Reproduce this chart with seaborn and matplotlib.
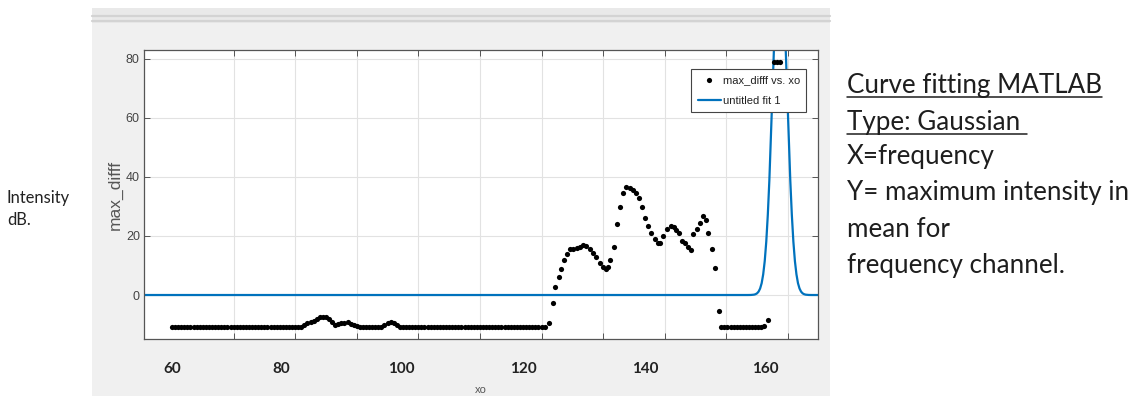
import matplotlib
matplotlib.use("Agg")
import matplotlib.pyplot as plt
from matplotlib import font_manager
from matplotlib.patches import Rectangle
from matplotlib.lines import Line2D
from matplotlib.ticker import FixedLocator
import seaborn as sns
import pandas as pd

# ---------------- data ----------------
# flat baseline 60 .. 81
xo_a = [60.0, 60.5, 61.0, 61.5, 62.0, 62.5, 63.0, 63.5, 64.0, 64.5,
        65.0, 65.5, 66.0, 66.5, 67.0, 67.5, 68.0, 68.5, 69.0, 69.5,
        70.0, 70.5, 71.0, 71.5, 72.0, 72.5, 73.0, 73.5, 74.0, 74.5,
        75.0, 75.5, 76.0, 76.5, 77.0, 77.5, 78.0, 78.5, 79.0, 79.5,
        80.0, 80.5, 81.0]
diff_a = [-10.7, -10.7, -10.7, -10.7, -10.7, -10.7, -10.7, -10.7, -10.7, -10.7,
          -10.7, -10.7, -10.7, -10.7, -10.7, -10.7, -10.7, -10.7, -10.7, -10.7,
          -10.7, -10.7, -10.7, -10.7, -10.7, -10.7, -10.7, -10.7, -10.7, -10.7,
          -10.7, -10.7, -10.7, -10.7, -10.7, -10.7, -10.7, -10.7, -10.7, -10.7,
          -10.7, -10.7, -10.7]
# first small bump
xo_b = [81.5, 82.0, 82.5, 83.0, 83.5, 84.0, 84.5, 85.0, 85.5, 86.0,
        86.5, 87.0, 87.5, 88.0, 88.5, 89.0, 89.5, 90.0]
diff_b = [-10.3, -9.6, -9.2, -8.7, -8.1, -7.6, -7.3, -7.5, -8.0, -9.2,
          -10.0, -9.7, -9.5, -9.4, -9.3, -9.8, -10.2, -10.5]
# flat
xo_c = [90.5, 91.0, 91.5, 92.0, 92.5, 93.0, 93.5, 94.0]
diff_c = [-10.7, -10.7, -10.7, -10.7, -10.7, -10.7, -10.7, -10.7]
# second small bump
xo_d = [94.5, 95.0, 95.5, 96.0, 96.5]
diff_d = [-10.2, -9.6, -9.1, -9.5, -10.3]
# flat 97 .. 120.5
xo_e = [97.0, 97.5, 98.0, 98.5, 99.0, 99.5, 100.0, 100.5, 101.0, 101.5,
        102.0, 102.5, 103.0, 103.5, 104.0, 104.5, 105.0, 105.5, 106.0, 106.5,
        107.0, 107.5, 108.0, 108.5, 109.0, 109.5, 110.0, 110.5, 111.0, 111.5,
        112.0, 112.5, 113.0, 113.5, 114.0, 114.5, 115.0, 115.5, 116.0, 116.5,
        117.0, 117.5, 118.0, 118.5, 119.0, 119.5, 120.0, 120.5]
diff_e = [-10.7, -10.7, -10.7, -10.7, -10.7, -10.7, -10.7, -10.7, -10.7, -10.7,
          -10.7, -10.7, -10.7, -10.7, -10.7, -10.7, -10.7, -10.7, -10.7, -10.7,
          -10.7, -10.7, -10.7, -10.7, -10.7, -10.7, -10.7, -10.7, -10.7, -10.7,
          -10.7, -10.7, -10.7, -10.7, -10.7, -10.7, -10.7, -10.7, -10.7, -10.7,
          -10.7, -10.7, -10.7, -10.7, -10.7, -10.7, -10.7, -10.7]
# rise and humps 121 .. 149
xo_f = [121.2, 121.8, 122.2, 122.8, 123.2, 123.7, 124.2, 124.7, 125.1, 125.7,
        126.2, 126.8, 127.3, 127.9, 128.4, 128.9, 129.5, 130.0, 130.5, 130.8,
        131.2, 131.8, 132.3, 132.7, 133.3, 133.8, 134.4, 134.9, 135.4, 135.9,
        136.3, 136.8, 137.3, 137.8, 138.4, 138.9, 139.2, 139.8, 140.3, 141.0,
        141.5, 141.9, 142.4, 142.8, 143.3, 143.8, 144.3, 144.6, 145.2, 145.7,
        146.3, 146.7, 147.1, 147.7, 148.2, 148.8]
diff_f = [-9.5, -2.8, 2.6, 6.2, 8.9, 11.9, 13.9, 15.5, 15.7, 15.9,
          16.4, 17.1, 16.6, 15.5, 14.1, 12.8, 11.0, 9.6, 8.9, 9.4,
          11.9, 16.4, 24.1, 29.9, 34.5, 36.5, 36.3, 35.6, 34.5, 32.8,
          29.9, 26.2, 23.4, 20.9, 18.9, 17.5, 17.7, 20.0, 22.5, 23.4,
          22.9, 22.0, 20.9, 18.4, 17.7, 16.4, 15.3, 20.7, 22.3, 24.5,
          26.8, 25.4, 20.9, 15.7, 9.0, -5.5]
# flat right part
xo_g = [149.2, 149.7, 150.2, 150.7, 151.2, 151.7, 152.2, 152.7, 153.2, 153.7,
        154.2, 154.7, 155.2, 155.7, 156.2, 156.7]
diff_g = [-10.7, -10.7, -10.7, -10.7, -10.7, -10.7, -10.7, -10.7, -10.7, -10.7,
          -10.7, -10.7, -10.7, -10.7, -10.5, -8.6]
# points near the top
xo_h = [157.8, 158.3, 158.8]
diff_h = [78.8, 78.8, 78.8]

# gaussian fit curve ("untitled fit 1")
fit_x = [55.0, 153.5, 154.0, 154.5, 154.75, 155.0, 155.25, 155.5, 155.75, 156.0,
         156.25, 156.5, 156.75, 157.0, 157.5, 158.0, 158.7, 159.4, 159.9, 160.4,
         160.65, 160.9, 161.15, 161.4, 161.65, 161.9, 162.15, 162.4, 162.65, 162.9,
         163.4, 163.9, 166.0]
fit_y = [0.0, 0.0, 0.02, 0.12, 0.27, 0.57, 1.15, 2.2, 4.0, 7.0,
         11.5, 18.1, 27.2, 38.8, 68.4, 99.0, 120.0, 99.0, 68.4, 38.8,
         27.2, 18.1, 11.5, 7.0, 4.0, 2.2, 1.15, 0.57, 0.27, 0.12,
         0.02, 0.0, 0.0]

grid_x = [60, 70, 80, 90, 100, 110, 120, 130, 140, 150, 160]
y_ticks = [0, 20, 40, 60, 80]
# bold labels pasted on the slide (their positions on the MATLAB axis)
overlay_labels = ["60", "80", "100", "120", "140", "160"]
overlay_pos = [60.0, 77.7, 97.3, 117.0, 136.8, 156.4]

slide_lines = ["Curve fitting MATLAB", "Type: Gaussian ", "X=frequency",
               "Y= maximum intensity in", "mean for", "frequency channel."]
side_lines = ["Intensity", "dB."]

# ---------------- build frames ----------------
xo = xo_a + xo_b + xo_c + xo_d + xo_e + xo_f + xo_g + xo_h
max_difff = diff_a + diff_b + diff_c + diff_d + diff_e + diff_f + diff_g + diff_h
assert len(xo) == len(max_difff)
assert len(fit_x) == len(fit_y)
df = pd.DataFrame({"xo": xo, "max_difff": max_difff})
fit_df = pd.DataFrame({"xo": fit_x, "fit": fit_y})

# ---------------- style ----------------
sns.set_theme(style="white")
names = {f.name for f in font_manager.fontManager.ttflist}


def pick(*cands):
    for c in cands:
        if c in names:
            return c
    return "DejaVu Sans"


narrow = pick("Liberation Sans Narrow", "DejaVu Sans Condensed", "Liberation Sans")
slide = pick("Lato", "Open Sans", "DejaVu Sans")
plt.rcParams["font.family"] = [narrow, "DejaVu Sans"]

W, H = 1140, 396
fig = plt.figure(figsize=(W / 100, H / 100), dpi=100)
fig.patch.set_facecolor("white")

# MATLAB window background
fig.add_artist(Rectangle((92 / W, 0), (830 - 92) / W, 1 - 8 / H,
                         transform=fig.transFigure, facecolor="#f0f0f0",
                         edgecolor="none", zorder=0))
fig.add_artist(Rectangle((92 / W, 1 - 23 / H), (830 - 92) / W, 15 / H,
                         transform=fig.transFigure, facecolor="#e9e9e9",
                         edgecolor="none", zorder=0))
for yy in (16, 21):
    fig.add_artist(Line2D([92 / W, 830 / W], [1 - yy / H] * 2,
                          transform=fig.transFigure, color="#d3d3d3",
                          lw=1.6, zorder=0.5))

ax = fig.add_axes([144 / W, 1 - 339 / H, (818 - 144) / W, (339 - 50) / H])
ax.set_facecolor("white")

sns.lineplot(data=fit_df, x="xo", y="fit", sort=False, estimator=None,
             color="#0072BD", lw=1.6, ax=ax, label="untitled fit 1", zorder=2)
sns.scatterplot(data=df, x="xo", y="max_difff", color="black", s=14,
                linewidth=0, ax=ax, label="max_difff vs. xo", zorder=3)

ax.set_xlim(55.45, 164.9)
ax.set_ylim(-14.9, 83.0)

ax.xaxis.set_minor_locator(FixedLocator(grid_x))
ax.set_xticks(overlay_pos, overlay_labels)
ax.set_yticks(y_ticks, [str(v) for v in y_ticks])
ax.tick_params(axis="x", which="major", length=0, pad=16.5, labelsize=11,
               labelcolor="#222222")
ax.tick_params(axis="x", which="minor", direction="in", length=4,
               top=True, bottom=True, color="#555555", width=0.7)
ax.tick_params(axis="y", which="major", direction="in", length=4,
               left=True, right=True, color="#555555", width=0.7,
               labelsize=9, labelcolor="#444444", pad=3)
for lab in ax.get_xticklabels():
    lab.set_fontweight("bold")
    lab.set_family([slide, "DejaVu Sans"])
ax.grid(False, which="major", axis="x")
ax.grid(True, which="minor", axis="x", color="#e2e2e2", lw=0.8)
ax.grid(True, which="major", axis="y", color="#e2e2e2", lw=0.8)
ax.set_axisbelow(True)
for sp in ax.spines.values():
    sp.set_color("#555555")
    sp.set_linewidth(0.9)

ax.set_ylabel("max_difff", fontsize=12.5, color="#555555")
ax.yaxis.set_label_coords(-0.031, 0.5)
ax.set_xlabel("xo", fontsize=8, color="#555555")
ax.xaxis.set_label_coords(0.5, -0.158)

h, l = ax.get_legend_handles_labels()
order = [l.index("max_difff vs. xo"), l.index("untitled fit 1")]
leg = ax.legend([h[i] for i in order], [l[i] for i in order],
                loc="upper right", bbox_to_anchor=(0.982, 0.934),
                borderaxespad=0, frameon=True, fancybox=False, framealpha=1,
                edgecolor="#444444", fontsize=8, handlelength=2.1,
                handletextpad=0.15, labelspacing=1.0, borderpad=0.55,
                markerscale=1.0)
leg.get_frame().set_linewidth(0.8)
leg.set_zorder(5)
for t in leg.get_texts():
    t.set_color("#222222")

# ---------------- slide text ----------------
renderer = fig.canvas.get_renderer()


def fit_size(txt, target_w, base=18.0):
    t = fig.text(0, 0, txt, fontsize=base, family=[slide, "DejaVu Sans"])
    w = t.get_window_extent(renderer).width
    t.remove()
    return base * target_w / w


big = fit_size(slide_lines[0], 254)
right_baselines = [93, 130, 164, 200, 237, 273]
texts = []
for txt, yb in zip(slide_lines, right_baselines):
    t = fig.text(847 / W, 1 - yb / H, txt, fontsize=big, va="baseline",
                 ha="left", color="#1e1e1e", family=[slide, "DejaVu Sans"])
    texts.append(t)

small = fit_size(side_lines[0], 63, base=12)
for txt, yb in zip(side_lines, [203, 225]):
    fig.text(7 / W, 1 - yb / H, txt, fontsize=small, va="baseline", ha="left",
             color="#222222", family=[slide, "DejaVu Sans"])

fig.canvas.draw()
for t, yb in zip(texts[:2], right_baselines[:2]):
    bb = t.get_window_extent(renderer)
    yline = 1 - (yb + 3.5) / H
    fig.add_artist(Line2D([bb.x0 / W, bb.x1 / W], [yline, yline],
                          transform=fig.transFigure, color="#1e1e1e", lw=1.1))

fig.savefig("out.png", dpi=100, facecolor="white")
